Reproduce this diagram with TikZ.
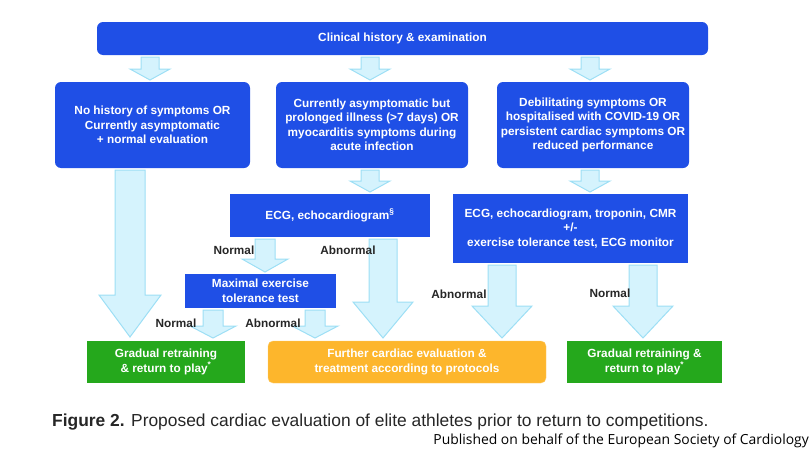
\documentclass[tikz,border=0pt]{standalone}
\usepackage{fontspec}
\setmainfont{Liberation Sans}
\newfontfamily\pubfont{Open Sans}
\usetikzlibrary{positioning}

\definecolor{boxblue}{HTML}{1F4FE6}
\definecolor{boxgreen}{HTML}{25A81C}
\definecolor{boxorange}{HTML}{FDB62C}
\definecolor{arrfill}{HTML}{D5F3FD}
\definecolor{arredge}{HTML}{9DDFF5}

% block arrow: x, top y, bottom y, shaft half width, head half width, head length
\newcommand\fatarrow[6]{%
  \draw[fatarr] (#1-#4,#2) -- (#1+#4,#2) -- (#1+#4,#3-#6) -- (#1+#5,#3-#6)
    -- (#1,#3) -- (#1-#5,#3-#6) -- (#1-#4,#3-#6) -- cycle;}

\begin{document}
\begin{tikzpicture}[x=1pt,y=-1pt,
    every node/.style={font=\fontsize{11.8}{14.5}\selectfont\bfseries, align=center},
    bluebox/.style={fill=boxblue, text=white, inner sep=0pt},
    roundbox/.style={bluebox, rounded corners=6pt},
    endbox/.style={text=white, inner sep=0pt},
    lbl/.style={text=black!85, inner sep=0pt},
    fatarr/.style={fill=arrfill, draw=arredge, line width=1pt}]
  \useasboundingbox (0,0) rectangle (812,450);

  % boxes
  \node[roundbox, minimum width=611pt, minimum height=33pt] (history) at (402.5,38.5) {Clinical history \& examination};
  \node[roundbox, minimum width=195pt, minimum height=86pt] (nosym) at (152.5,125) {No history of symptoms OR\\Currently asymptomatic\\+ normal evaluation};
  \node[roundbox, minimum width=192pt, minimum height=86pt] (prolong) at (372,125) {Currently asymptomatic but\\prolonged illness (>7 days) OR\\myocarditis symptoms during\\acute infection};
  \node[roundbox, minimum width=192pt, minimum height=86pt] (debil) at (593,125) {Debilitating symptoms OR\\hospitalised with COVID-19 OR\\persistent cardiac symptoms OR\\reduced performance};
  \node[bluebox, minimum width=200pt, minimum height=43pt] (ecgA) at (330,215.5) {ECG, echocardiogram\textsuperscript{\S}};
  \node[bluebox, minimum width=235pt, minimum height=69pt] (ecgB) at (570.5,228.5) {ECG, echocardiogram, troponin, CMR\\+/-\\exercise tolerance test, ECG monitor};
  \node[bluebox, minimum width=151pt, minimum height=34pt] (maxex) at (260.5,291) {Maximal exercise\\tolerance test};
  \node[endbox, fill=boxgreen, minimum width=158pt, minimum height=42pt] (retrainA) at (166,362) {Gradual retraining\\\& return to play\textsuperscript{*}};
  \node[endbox, fill=boxorange, draw=boxorange!70!white, rounded corners=5pt, minimum width=278pt, minimum height=42pt] (further) at (407,362) {Further cardiac evaluation \&\\treatment according to protocols};
  \node[endbox, fill=boxgreen, minimum width=155pt, minimum height=42pt] (retrainB) at (644.5,362) {Gradual retraining \&\\return to play\textsuperscript{*}};

  % arrows
  \fatarrow{150}{57}{80}{9}{20}{11}
  \fatarrow{370}{57}{80}{9}{20}{11}
  \fatarrow{590}{57}{80}{9}{20}{11}
  \fatarrow{130}{170}{337}{15}{31}{42}
  \fatarrow{370}{170}{192}{9}{20}{11}
  \fatarrow{590}{170}{192}{9}{20}{11}
  \fatarrow{265}{239}{272}{10}{23}{13}
  \fatarrow{383}{239}{338}{14}{30}{36}
  \fatarrow{213}{310}{338}{10}{23}{12}
  \fatarrow{315}{310}{338}{10}{23}{12}
  \fatarrow{502}{265}{338}{14}{30}{32}
  \fatarrow{643}{265}{338}{14}{30}{32}

  % labels
  \node[lbl] (nA) at (234,250) {Normal};
  \node[lbl] (abA) at (348,250) {Abnormal};
  \node[lbl] (nM) at (176,323) {Normal};
  \node[lbl] (abM) at (273,323) {Abnormal};
  \node[lbl] (abB) at (459,294) {Abnormal};
  \node[lbl] (nB) at (610,293) {Normal};

  % caption
  \node[lbl, anchor=west, font=\fontsize{17.4}{19}\selectfont] (caption) at (52,422)
    {\textbf{Figure 2.} Proposed cardiac evaluation of elite athletes prior to return to competitions.};
  \node[lbl, anchor=east, text=black, font=\pubfont\fontsize{13.9}{15}\selectfont] (pub) at (809,441)
    {Published on behalf of the European Society of Cardiology};
\end{tikzpicture}
\end{document}
